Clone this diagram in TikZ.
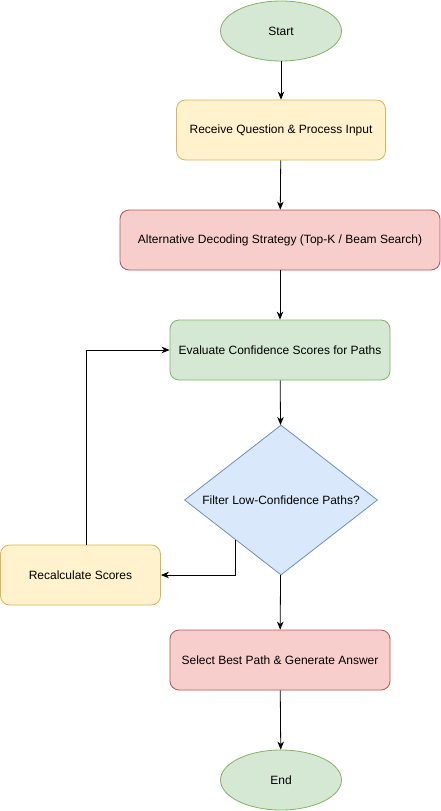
\documentclass[tikz,border=0pt]{standalone}
\usepackage{fontspec}
\setmainfont{Liberation Sans}
\usetikzlibrary{shapes.geometric,calc,arrows.meta}
\definecolor{gfill}{HTML}{D5E8D4}\definecolor{gline}{HTML}{82B366}
\definecolor{yfill}{HTML}{FFF2CC}\definecolor{yline}{HTML}{D6B656}
\definecolor{rfill}{HTML}{F8CECC}\definecolor{rline}{HTML}{B85450}
\definecolor{bfill}{HTML}{DAE8FC}\definecolor{bline}{HTML}{6C8EBF}
\tikzset{
  box/.style={rectangle,rounded corners=9pt,minimum height=60pt,font=\fontsize{12}{14}\selectfont,line width=0.8pt},
  term/.style={ellipse,minimum width=121pt,minimum height=60pt,fill=gfill,draw=gline,font=\fontsize{12}{14}\selectfont,line width=0.8pt},
  greenbox/.style={box,fill=gfill,draw=gline},
  yellowbox/.style={box,fill=yfill,draw=yline},
  redbox/.style={box,fill=rfill,draw=rline},
}
\begin{document}
\begin{tikzpicture}[>={Stealth[length=8pt,width=6.5pt,inset=2.5pt]},x=1pt,y=1pt,line width=0.8pt]
			\useasboundingbox (0,0) rectangle (441,-811);
			\node[term] (start) at (281,-31) {Start};
			\node[yellowbox,minimum width=209pt] (input) at (281,-130) {Receive Question \& Process Input};
			\node[redbox,minimum width=320pt] (decode) at (280,-240) {Alternative Decoding Strategy (Top-K / Beam Search)};
			\node[greenbox,minimum width=220pt] (eval) at (280,-350) {Evaluate Confidence Scores for Paths};
			\node[diamond,aspect=1.29,fill=bfill,draw=bline,minimum width=193pt,minimum height=150pt,inner sep=0pt,font=\fontsize{12}{14}\selectfont] (filter) at (281,-500) {Filter Low-Confidence Paths?};
			\node[yellowbox,minimum width=160pt] (recalc) at (80.5,-575) {Recalculate Scores};
			\node[redbox,minimum width=220pt] (select) at (280,-660) {Select Best Path \& Generate Answer};
			\node[term] (end) at (281,-780) {End};
			\draw[->] (start)--(input);
			\draw[->] (input)--(decode);
			\draw[->] (decode)--(eval);
			\draw[->] (eval)--(filter);
			\draw[->] ($(filter.west)!0.53!(filter.south)$) |- (recalc.east);
			\draw[->] ([xshift=5.5pt]recalc.north) |- (eval.west);
			\draw[->] (filter)--(select);
			\draw[->] (select)--(end);
	\end{tikzpicture}
\end{document}
